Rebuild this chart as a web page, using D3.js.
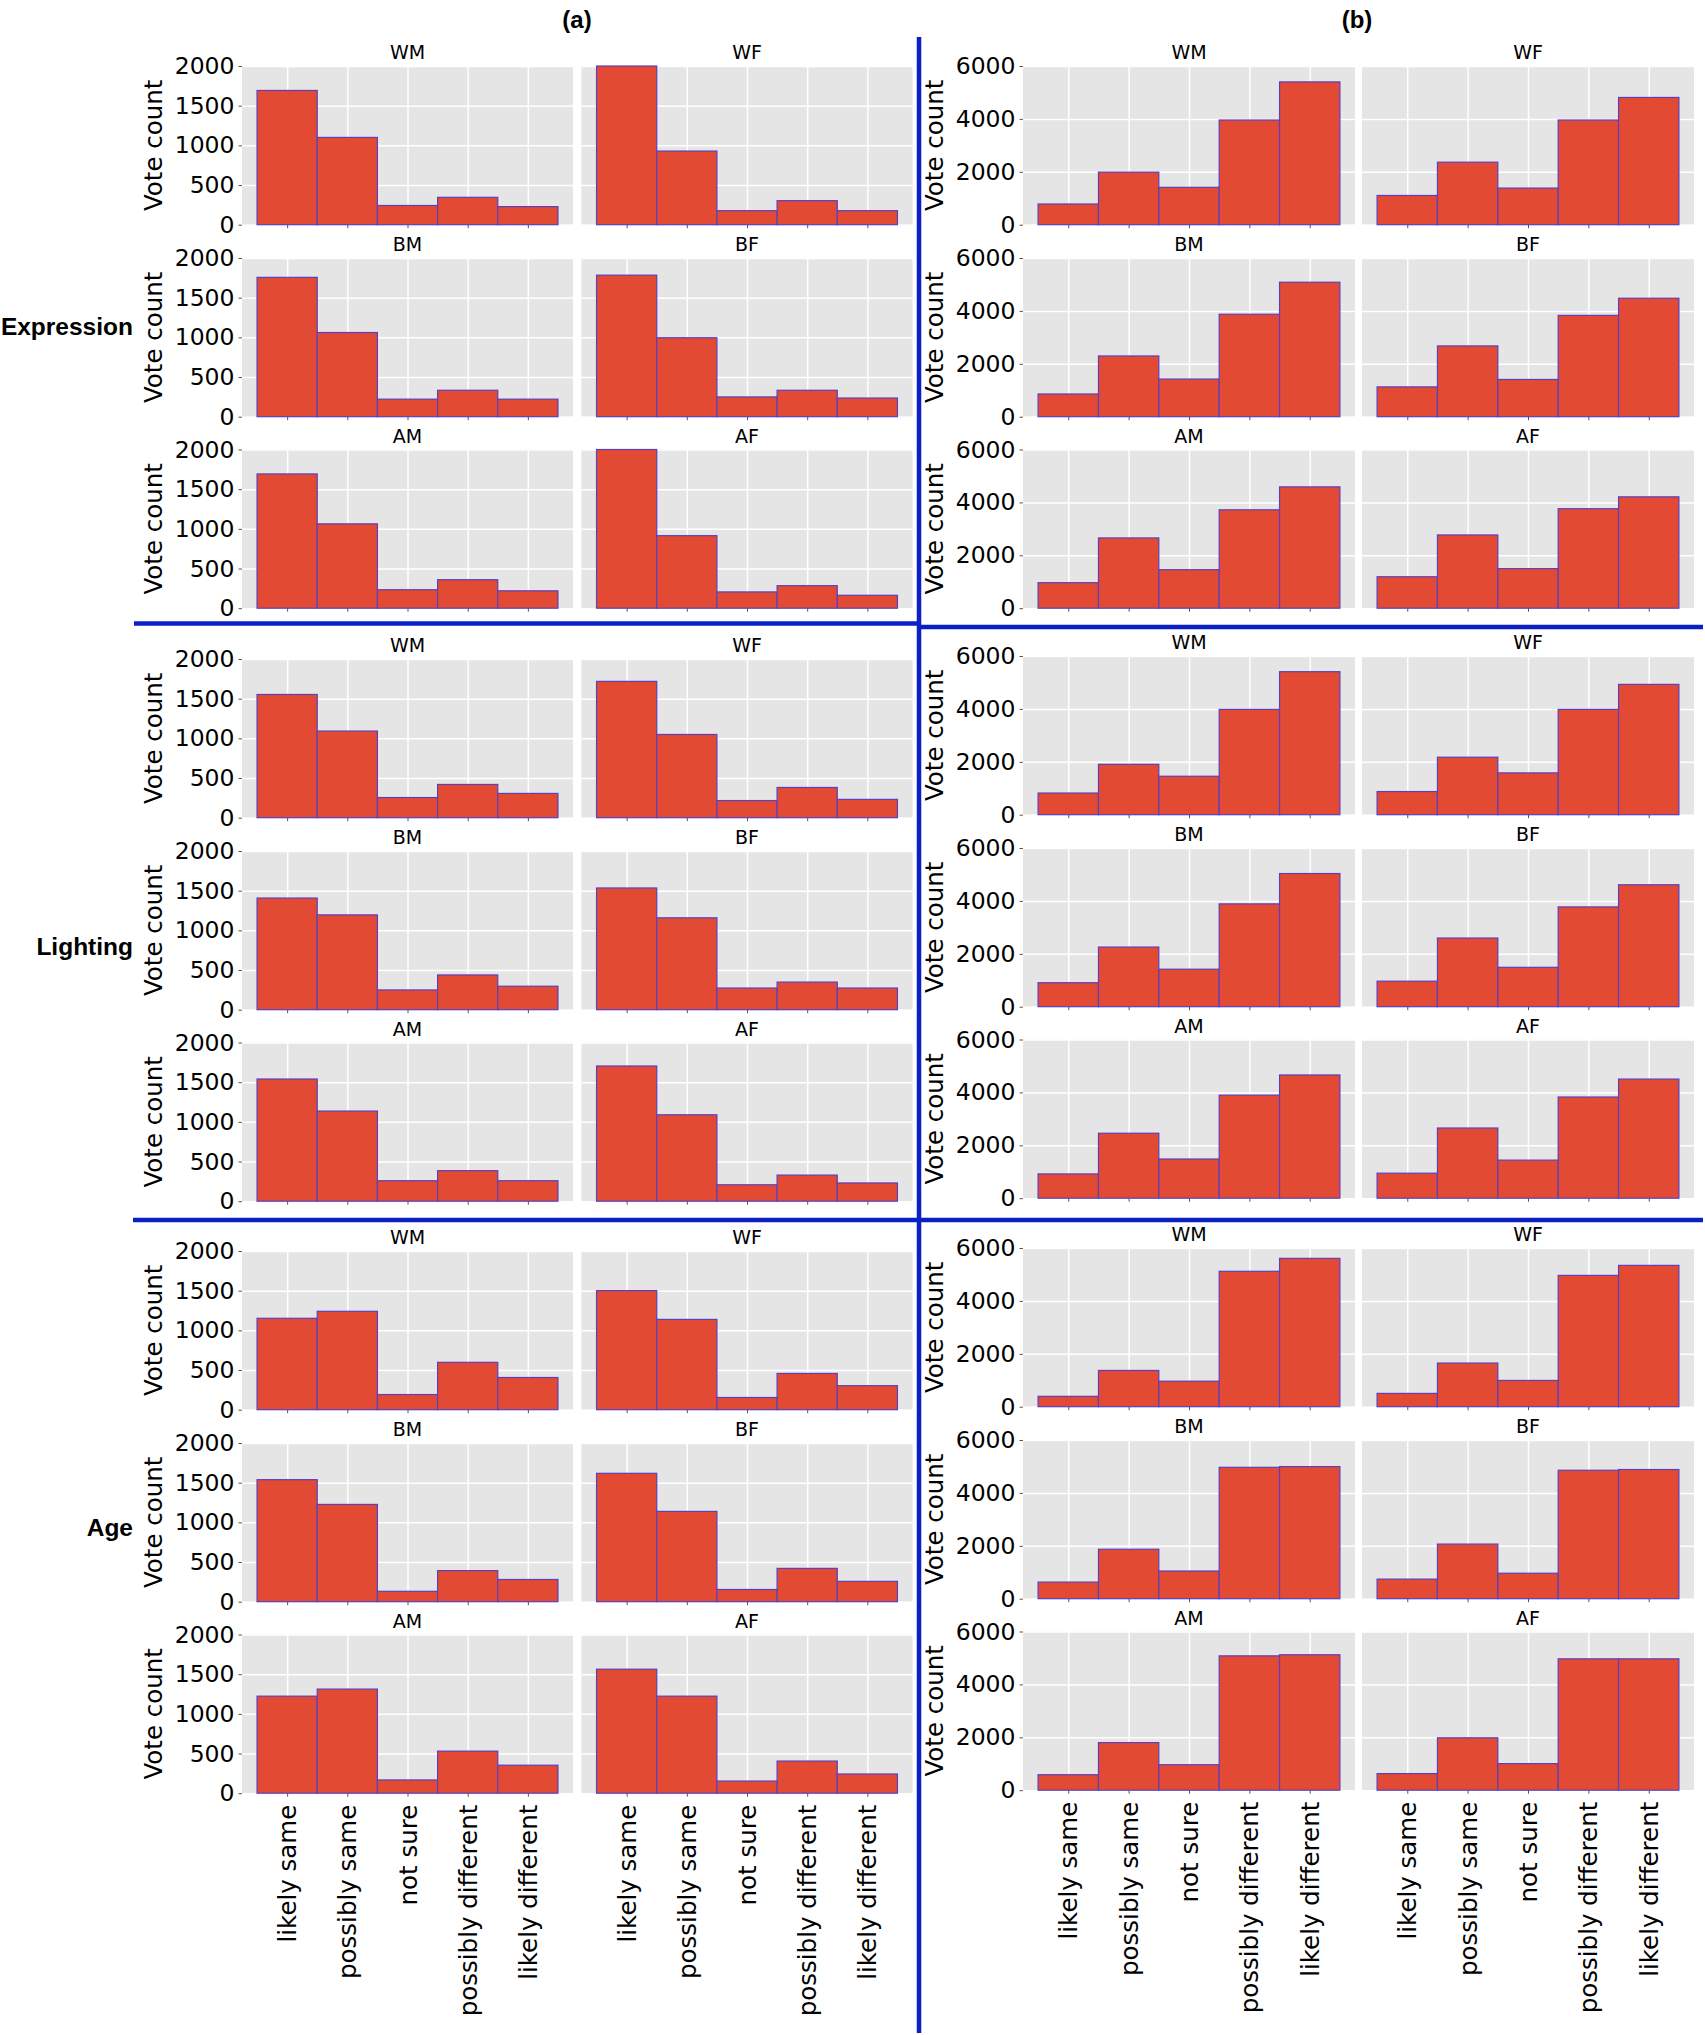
<!DOCTYPE html>
<html>
<head>
<meta charset="utf-8">
<script src="https://cdn.jsdelivr.net/npm/d3@7"></script>
<style>
  body { margin: 0; background: #fff; }
  svg { display: block; }
</style>
</head>
<body>
<div id="container"></div>
<script>
/* DATA */
const categories = ["likely same", "possibly same", "not sure", "possibly different", "likely different"];
const groups = ["Expression", "Lighting", "Age"];
const panelNames = ["WM", "WF", "BM", "BF", "AM", "AF"];
const yTicksA = [0, 500, 1000, 1500, 2000];
const yTicksB = [0, 2000, 4000, 6000];

// (a) columns, one row per panel: WM, WF, BM, BF, AM, AF
const expressionA = [
  [1692, 1100, 242, 345, 228],
  [2000, 928, 177, 303, 177],
  [1756, 1061, 221, 333, 221],
  [1784, 995, 249, 333, 235],
  [1692, 1063, 233, 359, 219],
  [2000, 914, 205, 284, 163]
];
const lightingA = [
  [1553, 1092, 254, 419, 306],
  [1718, 1049, 216, 381, 231],
  [1407, 1195, 249, 438, 296],
  [1534, 1158, 273, 348, 273],
  [1540, 1136, 258, 385, 258],
  [1704, 1089, 207, 329, 230]
];
const ageA = [
  [1152, 1240, 191, 597, 406],
  [1501, 1138, 154, 457, 303],
  [1538, 1226, 131, 392, 280],
  [1618, 1138, 154, 420, 256],
  [1223, 1312, 167, 530, 353],
  [1563, 1223, 153, 405, 242]
];

// (b)
const expressionB = [
  [783, 1986, 1413, 3958, 5399],
  [1105, 2364, 1385, 3958, 4811],
  [859, 2296, 1423, 3873, 5085],
  [1127, 2676, 1408, 3831, 4479],
  [965, 2657, 1455, 3720, 4587],
  [1189, 2769, 1497, 3762, 4210]
];
const lightingB = [
  [819, 1906, 1454, 3981, 5407],
  [875, 2174, 1581, 3981, 4927],
  [908, 2255, 1418, 3887, 5035],
  [965, 2596, 1489, 3773, 4610],
  [918, 2456, 1482, 3896, 4659],
  [946, 2654, 1440, 3826, 4504]
];
const ageB = [
  [392, 1371, 965, 5119, 5608],
  [503, 1650, 993, 4965, 5343],
  [628, 1870, 1047, 4967, 4995],
  [740, 2065, 963, 4856, 4884],
  [586, 1800, 963, 5079, 5121],
  [628, 1981, 1005, 4967, 4967]
];

/* LAYOUT */
const width = 1705, height = 2035;
const plotH = 158.7;
const rowOffsets = [0, 192, 383.5];
const tickFont = "'DejaVu Sans', sans-serif";
const boldFont = "'Liberation Sans', Arial, sans-serif";

const columns = [
  { label: "(a)", labelX: 577, xs: [242, 581.5], w: 331, groupTops: [66, 659, 1251],
    ymax: 2000, ticks: yTicksA, data: [expressionA, lightingA, ageA] },
  { label: "(b)", labelX: 1357, xs: [1023, 1362], w: 332, groupTops: [66, 656, 1248],
    ymax: 6000, ticks: yTicksB, data: [expressionB, lightingB, ageB] }
];

const svg = d3.select("#container")
  .append("svg")
  .attr("width", width)
  .attr("height", height);

svg.append("rect").attr("width", width).attr("height", height).attr("fill", "#fff");

columns.forEach((col, ci) => {
  svg.append("text")
    .attr("x", col.labelX).attr("y", 19)
    .attr("text-anchor", "middle").attr("dominant-baseline", "central")
    .style("font-family", boldFont).style("font-weight", "bold").style("font-size", "24px")
    .text(col.label);

  col.data.forEach((groupData, gi) => {
    groupData.forEach((values, pi) => {
      const r = Math.floor(pi / 2), s = pi % 2;
      const top = col.groupTops[gi] + rowOffsets[r];
      const x0 = col.xs[s];
      const isBottom = gi === 2 && r === 2;

      const xScale = d3.scaleLinear().domain([-0.75, 4.75]).range([x0, x0 + col.w]);
      const yScale = d3.scaleLinear().domain([0, col.ymax]).range([top + plotH, top]);

      const g = svg.append("g");

      // background
      g.append("rect")
        .attr("x", x0).attr("y", top)
        .attr("width", col.w).attr("height", plotH)
        .attr("fill", "#e5e5e5");

      // grid
      g.append("g")
        .attr("transform", `translate(${x0},0)`)
        .call(d3.axisLeft(yScale).tickValues(col.ticks).tickSize(-col.w).tickFormat(""))
        .call(a => a.select(".domain").remove())
        .call(a => a.selectAll("line").attr("stroke", "#fff").attr("stroke-width", 1.5));
      g.append("g")
        .attr("transform", `translate(0,${top + plotH})`)
        .call(d3.axisBottom(xScale).tickValues(d3.range(5)).tickSize(-plotH).tickFormat(""))
        .call(a => a.select(".domain").remove())
        .call(a => a.selectAll("line").attr("stroke", "#fff").attr("stroke-width", 1.5));

      // bars
      g.selectAll("rect.bar")
        .data(values)
        .join("rect")
        .attr("class", "bar")
        .attr("x", (d, i) => xScale(i - 0.5))
        .attr("width", xScale(1) - xScale(0))
        .attr("y", d => yScale(Math.min(d, col.ymax)))
        .attr("height", d => yScale(0) - yScale(Math.min(d, col.ymax)))
        .attr("fill", "#e24a33")
        .attr("stroke", "#5b3fbf")
        .attr("stroke-width", 1.2);

      // x ticks
      const xAxis = d3.axisBottom(xScale).tickValues(d3.range(5)).tickSize(3.5)
        .tickFormat(isBottom ? (i => categories[i]) : "");
      g.append("g")
        .attr("transform", `translate(0,${top + plotH})`)
        .call(xAxis)
        .call(a => a.select(".domain").remove())
        .call(a => a.selectAll("line").attr("stroke", "#555"))
        .call(a => a.selectAll("text")
          .attr("transform", "rotate(-90)")
          .attr("text-anchor", "end")
          .attr("x", -11.5).attr("y", 0).attr("dy", "0.35em")
          .attr("fill", "#000")
          .style("font-family", tickFont).style("font-size", "24.5px"));

      // y ticks, labels only on the left panel
      if (s === 0) {
        g.append("g")
          .attr("transform", `translate(${x0},0)`)
          .call(d3.axisLeft(yScale).tickValues(col.ticks).tickSize(3.5).tickPadding(4)
            .tickFormat(d3.format("d")))
          .call(a => a.select(".domain").remove())
          .call(a => a.selectAll("line").attr("stroke", "#555"))
          .call(a => a.selectAll("text")
            .attr("fill", "#000")
            .style("font-family", tickFont).style("font-size", "23.5px"));

        g.append("text")
          .attr("transform", `translate(${x0 - 89},${top + plotH / 2}) rotate(-90)`)
          .attr("text-anchor", "middle").attr("dominant-baseline", "central")
          .style("font-family", tickFont).style("font-size", "24.5px")
          .text("Vote count");
      }

      // panel title
      g.append("text")
        .attr("x", x0 + col.w / 2).attr("y", top - 7)
        .attr("text-anchor", "middle")
        .style("font-family", tickFont).style("font-size", "19px")
        .text(panelNames[pi]);
    });
  });
});

// row group labels
const groupLabelY = [326, 946, 1527];
groups.forEach((name, i) => {
  svg.append("text")
    .attr("x", 133).attr("y", groupLabelY[i])
    .attr("text-anchor", "end").attr("dominant-baseline", "central")
    .style("font-family", boldFont).style("font-weight", "bold").style("font-size", "24.5px")
    .text(name);
});

/* SEPARATOR LINES */
const blue = "#0a1fc4";
const lines = [
  [919, 37, 919, 2033],
  [134, 623.5, 919, 623.5],
  [919, 627, 1703, 627],
  [133, 1220, 1703, 1220]
];
svg.selectAll("line.sep")
  .data(lines)
  .join("line")
  .attr("class", "sep")
  .attr("x1", d => d[0]).attr("y1", d => d[1])
  .attr("x2", d => d[2]).attr("y2", d => d[3])
  .attr("stroke", blue).attr("stroke-width", 4.5);
</script>
</body>
</html>
